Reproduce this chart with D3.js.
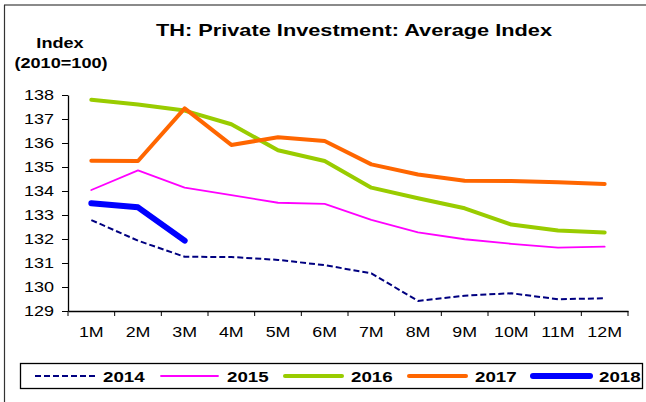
<!DOCTYPE html>
<html>
<head>
<meta charset="utf-8">
<script src="https://cdn.jsdelivr.net/npm/d3@7"></script>
<style>
  body { margin: 0; background: #fff; }
  text { font-family: Arial, "Liberation Sans", sans-serif; fill: #000; }
</style>
</head>
<body>
<div id="chart"></div>
<script>
// chart values
const months = ["1M", "2M", "3M", "4M", "5M", "6M", "7M", "8M", "9M", "10M", "11M", "12M"];
const years = ["2014", "2015", "2016", "2017", "2018"];
const s2014 = [132.79, 131.93, 131.26, 131.25, 131.13, 130.91, 130.57, 129.42, 129.64, 129.74, 129.49, 129.53];
const s2015 = [134.04, 134.86, 134.14, 133.83, 133.51, 133.46, 132.80, 132.28, 131.99, 131.80, 131.64, 131.68];
const s2016 = [137.80, 137.60, 137.35, 136.78, 135.70, 135.25, 134.14, 133.70, 133.28, 132.60, 132.35, 132.27];
const s2017 = [135.26, 135.25, 137.44, 135.92, 136.24, 136.08, 135.11, 134.69, 134.43, 134.42, 134.36, 134.29];
const s2018 = [133.49, 133.32, 131.93];
const yTicks = [129, 130, 131, 132, 133, 134, 135, 136, 137, 138];

const W = 646, H = 402;
const stretch = 1.25; // the original text looks wider than normal Arial

const svg = d3.select("#chart").append("svg")
    .attr("width", W)
    .attr("height", H);

// frame (only top and left edges are visible)
svg.append("line").attr("x1", 4).attr("y1", 5).attr("x2", W).attr("y2", 5)
    .attr("stroke", "#8a8a8a").attr("stroke-width", 2);
svg.append("line").attr("x1", 4.5).attr("y1", 5).attr("x2", 4.5).attr("y2", H)
    .attr("stroke", "#333").attr("stroke-width", 1.2);

function label(x, y, txt, size, bold, sx) {
    return svg.append("text")
        .attr("transform", `translate(${x},${y}) scale(${sx || stretch},1)`)
        .attr("text-anchor", "middle")
        .style("font-size", size + "px")
        .style("font-weight", bold ? "bold" : "normal")
        .text(txt);
}

label(354, 36, "TH: Private Investment: Average Index", 17, true, 1.28);
label(60, 48, "Index", 14.5, true);
label(61, 68, "(2010=100)", 14.5, true);

const x = d3.scaleBand().domain(months).range([68, 628]);
const y = d3.scaleLinear().domain([129, 138]).range([311, 95]);

// y axis
const yAxis = svg.append("g")
    .attr("transform", "translate(68,0)")
    .call(d3.axisLeft(y).tickValues(yTicks).tickSize(6).tickPadding(10).tickSizeOuter(0));
yAxis.selectAll("text")
    .style("font-size", "15px")
    .attr("transform", `scale(${1.2},1)`)
    .attr("x", -14 / 1.2);

// x axis: labels in the band centres, ticks at band edges
const xAxis = svg.append("g")
    .attr("transform", "translate(0,311)")
    .call(d3.axisBottom(x).tickSize(0).tickPadding(0).tickSizeOuter(0));
xAxis.selectAll("text")
    .style("font-size", "15.5px")
    .attr("dy", 0)
    .attr("y", 26)
    .attr("transform", `scale(${1.15},1)`);
xAxis.selectAll(".tick line").remove();
xAxis.selectAll(".edge")
    .data(months.map(m => x(m)).concat([x.range()[1]]))
    .enter().append("line")
    .attr("class", "edge")
    .attr("x1", d => d).attr("x2", d => d)
    .attr("y1", 0).attr("y2", 5)
    .attr("stroke", "#000");
svg.selectAll(".domain").attr("stroke", "#000").attr("stroke-width", 1.3);
svg.selectAll(".tick line").attr("stroke", "#000");

const styles = {
    "2014": { color: "#000080", width: 2, dash: "6,3", data: s2014 },
    "2015": { color: "#ff00ff", width: 1.8, dash: null, data: s2015 },
    "2016": { color: "#99cc00", width: 4, dash: null, data: s2016 },
    "2017": { color: "#ff6600", width: 4, dash: null, data: s2017 },
    "2018": { color: "#0000ff", width: 6, dash: null, data: s2018 }
};

const line = d3.line()
    .x((d, i) => x(months[i]) + x.bandwidth() / 2)
    .y(d => y(d));

years.forEach(yr => {
    const st = styles[yr];
    svg.append("path")
        .datum(st.data)
        .attr("fill", "none")
        .attr("stroke", st.color)
        .attr("stroke-width", st.width)
        .attr("stroke-dasharray", st.dash)
        .attr("stroke-linejoin", "round")
        .attr("stroke-linecap", st.dash ? "butt" : "round")
        .attr("d", line);
});

// legend
svg.append("rect")
    .attr("x", 20.5).attr("y", 363.5)
    .attr("width", 622).attr("height", 25)
    .attr("fill", "#fff")
    .attr("stroke", "#000").attr("stroke-width", 1.3);

const legend = svg.selectAll(".legend")
    .data(years)
    .enter().append("g")
    .attr("class", "legend")
    .attr("transform", (d, i) => `translate(${35 + i * 124},376)`);

legend.append("line")
    .attr("x1", d => styles[d].dash ? 0 : 2)
    .attr("x2", d => styles[d].dash ? 61 : 59)
    .attr("stroke", d => styles[d].color)
    .attr("stroke-width", d => styles[d].width)
    .attr("stroke-dasharray", d => styles[d].dash)
    .attr("stroke-linecap", d => styles[d].dash ? "butt" : "round");

legend.append("text")
    .attr("transform", `translate(68,5.5) scale(${stretch},1)`)
    .style("font-size", "15px")
    .style("font-weight", "bold")
    .text(d => d);
</script>
</body>
</html>
